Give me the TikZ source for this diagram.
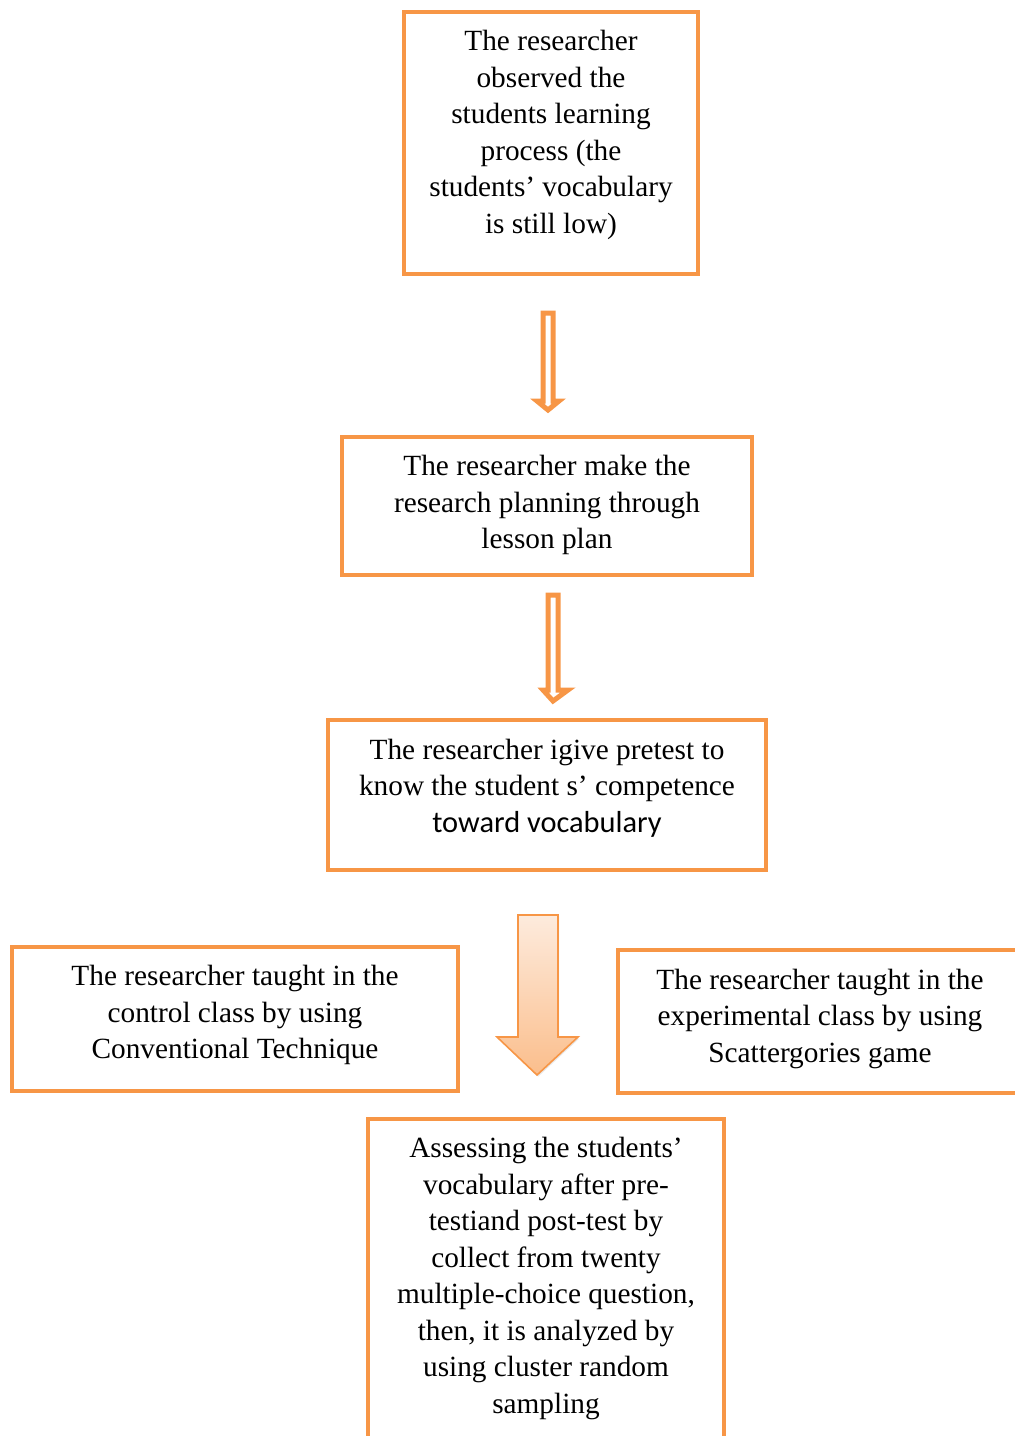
\documentclass[tikz,border=0pt]{standalone}
\usepackage{fontspec}
\setmainfont{Liberation Serif}
\newfontfamily\calibri{Carlito}
\usepackage{tikz}
\usetikzlibrary{shadows}
\definecolor{ORANGE}{HTML}{F79646}
\definecolor{PEACHTOP}{HTML}{FDEBDD}
\definecolor{PEACHBOT}{HTML}{FBBE8C}

\begin{document}
\begin{tikzpicture}[
  x=0.5pt, y=-0.5pt,
  stage/.style={draw=ORANGE, line width=2pt, fill=white, inner sep=0pt},
  words/.style={align=center, inner sep=0pt, font=\fontsize{14.65}{18.25}\selectfont},
  hollowarrow/.style={draw=ORANGE, line width=2.5pt, fill=white, line join=miter},
  bigarrow/.style={draw=ORANGE, line width=0.8pt, top color=PEACHTOP,
    bottom color=PEACHBOT, drop shadow={opacity=0.18, shadow xshift=0.6pt, shadow yshift=-0.8pt}},
]
\useasboundingbox (0,0) rectangle (1014,1436);

% ---- stages ---------------------------------------------------------------
\node[stage, minimum width=147pt, minimum height=131pt] (observe) at (551,143) {};
\node[words] (observetext) at ([yshift=4pt]observe.center)
  {The researcher\\observed the\\students learning\\process (the\\students’ vocabulary\\is still low)};

\node[stage, minimum width=205pt, minimum height=69pt] (plan) at (547,506) {};
\node[words] (plantext) at ([yshift=0.5pt]plan.center)
  {The researcher make the\\research planning through\\lesson plan};

\node[stage, minimum width=219pt, minimum height=75pt] (pretest) at (547,795) {};
\node[words] (pretesttext) at ([yshift=3.5pt]pretest.center)
  {The researcher igive pretest to\\know the student s’ competence\\{\calibri\fontsize{15.2}{19.5}\selectfont toward vocabulary}};

\node[stage, minimum width=223pt, minimum height=72pt] (control) at (235,1019) {};
\node[words] (controltext) at ([yshift=2pt]control.center)
  {The researcher taught in the\\control class by using\\Conventional Technique};

\node[stage, minimum width=202pt, minimum height=71.5pt] (experiment) at (820,1021.5) {};
\node[words] (experimenttext) at ([yshift=1.5pt]experiment.center)
  {The researcher taught in the\\experimental class by using\\Scattergories game};

\node[stage, minimum width=178pt, minimum height=165.5pt] (assess) at (546,1284.5) {};
\node[words] (assesstext) at ([yshift=3pt]assess.center)
  {Assessing the students’\\vocabulary after pre-\\testiand post-test by\\collect from twenty\\multiple-choice question,\\then, it is analyzed by\\using cluster random\\sampling};

% ---- hollow arrows --------------------------------------------------------
\draw[hollowarrow] (543,313) -- (553,313) -- (553,401) -- (559,401) -- (548,410)
  -- (537,401) -- (543,401) -- cycle;
\draw[hollowarrow] (548,595) -- (558,595) -- (558,690) -- (568,690) -- (553,701)
  -- (543,690) -- (548,690) -- cycle;

% ---- shaded arrow ---------------------------------------------------------
\draw[bigarrow] (518,915) -- (558,915) -- (558,1037) -- (578,1037) -- (537,1075)
  -- (497,1037) -- (518,1037) -- cycle;

\end{tikzpicture}
\end{document}
